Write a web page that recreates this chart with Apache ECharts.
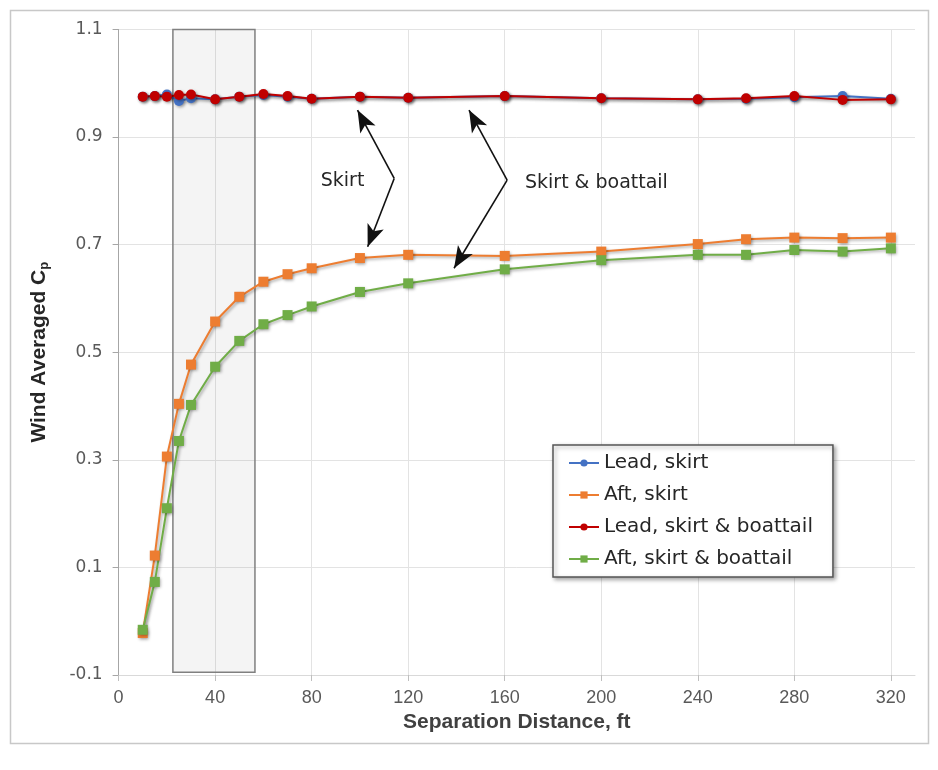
<!DOCTYPE html>
<html>
<head>
<meta charset="utf-8">
<script src="https://cdn.jsdelivr.net/npm/echarts@6/dist/echarts.min.js"></script>
<style>html,body{margin:0;padding:0;background:#fff}#c{width:938px;height:770px}</style>
</head>
<body>
<div id="c"></div>
<script>
// ---- data ----
var distances = [10, 15, 20, 25, 30, 40, 50, 60, 70, 80, 100, 120, 160, 200, 240, 260, 280, 300, 320];
var leadSkirt = [0.975, 0.976, 0.979, 0.967, 0.972, 0.970, 0.975, 0.978, 0.975, 0.971, 0.975, 0.973, 0.976, 0.972, 0.970, 0.971, 0.974, 0.976, 0.971];
var aftSkirt = [-0.022, 0.122, 0.306, 0.404, 0.477, 0.557, 0.603, 0.631, 0.645, 0.656, 0.675, 0.681, 0.679, 0.687, 0.701, 0.710, 0.713, 0.712, 0.713];
var leadSkirtBoattail = [0.975, 0.976, 0.975, 0.978, 0.979, 0.970, 0.975, 0.980, 0.976, 0.971, 0.975, 0.973, 0.976, 0.972, 0.970, 0.972, 0.976, 0.969, 0.970];
var aftSkirtBoattail = [-0.016, 0.073, 0.210, 0.335, 0.402, 0.473, 0.521, 0.552, 0.569, 0.585, 0.612, 0.628, 0.654, 0.671, 0.681, 0.681, 0.690, 0.687, 0.693];
var seriesNames = ['Lead, skirt', 'Aft, skirt', 'Lead, skirt & boattail', 'Aft, skirt & boattail'];
var xTicks = [0, 40, 80, 120, 160, 200, 240, 280, 320];
var shadedRange = [22.5, 56.5];
var annotationTexts = [{ name: 'Skirt', coord: [92.8, 0.818] }, { name: 'Skirt & boattail', coord: [198, 0.815] }];
var skirtArrow = { vertex: [114.2, 0.823], ends: [[99.0, 0.950], [103.2, 0.696]] };
var boattailArrow = { vertex: [161.0, 0.820], ends: [[145.2, 0.950], [139.0, 0.656]] };

function pairs(ys) { return distances.map(function (x, i) { return [x, ys[i]]; }); }
function arrowLines(a) {
  return a.ends.map(function (e) {
    return [{ coord: a.vertex, symbol: 'none' }, { coord: e, symbol: 'arrow' }];
  });
}

var shadow = { shadowColor: 'rgba(0,0,0,0.35)', shadowBlur: 3, shadowOffsetX: 1.5, shadowOffsetY: 1.5 };
function mkSeries(name, ys, color, symbol, size) {
  return {
    name: name, type: 'line', data: pairs(ys), symbol: symbol, symbolSize: size,
    lineStyle: Object.assign({ color: color, width: 2 }, shadow),
    itemStyle: Object.assign({ color: color }, shadow),
    animation: false
  };
}

var chart = echarts.init(document.getElementById('c'), null, { renderer: 'canvas' });
var s1 = mkSeries(seriesNames[0], leadSkirt, '#4472C4', 'circle', 10);
var s2 = mkSeries(seriesNames[1], aftSkirt, '#ED7D31', 'rect', 10);
var s3 = mkSeries(seriesNames[2], leadSkirtBoattail, '#C00000', 'circle', 10);
var s4 = mkSeries(seriesNames[3], aftSkirtBoattail, '#70AD47', 'rect', 10);

s1.markArea = {
  silent: true,
  itemStyle: { color: 'rgba(0,0,0,0.045)', borderColor: '#808080', borderWidth: 1.5 },
  data: [[{ coord: [shadedRange[0], -0.095] }, { coord: [shadedRange[1], 1.1] }]]
};
s4.markLine = {
  silent: true, animation: false,
  symbolSize: [13, 22],
  lineStyle: { color: '#111', width: 1.6, type: 'solid' },
  label: { show: false },
  data: arrowLines(skirtArrow).concat(arrowLines(boattailArrow))
};
s4.markPoint = {
  silent: true, animation: false,
  symbol: 'circle', symbolSize: 1, itemStyle: { color: 'rgba(0,0,0,0)' },
  label: { show: true, position: 'inside', formatter: function (p) { return p.name; },
    color: '#262626', fontSize: 19, fontFamily: 'DejaVu Sans' },
  data: annotationTexts.map(function (t) { return { name: t.name, coord: t.coord }; })
};

chart.setOption({
  backgroundColor: '#fff',
  animation: false,
  graphic: [{
    type: 'rect', left: 8, top: 8, shape: { width: 918, height: 733 },
    style: { fill: 'none', stroke: '#c8c8c8', lineWidth: 1.5 }, silent: true, z: -10
  }],
  grid: { left: 118.6, right: 23, top: 29.4, bottom: 95 },
  legend: {
    orient: 'vertical', left: 553, top: 445,
    data: seriesNames,
    backgroundColor: '#fff', borderColor: '#555', borderWidth: 1.5, borderRadius: 0,
    shadowColor: 'rgba(0,0,0,0.35)', shadowBlur: 4, shadowOffsetX: 2, shadowOffsetY: 2,
    padding: [7, 20, 7, 15], itemGap: 10, itemWidth: 30, itemHeight: 9,
    textStyle: { fontSize: 20, color: '#262626', fontFamily: 'DejaVu Sans', lineHeight: 22 }
  },
  xAxis: {
    type: 'value', min: 0, max: 330, interval: 40,
    name: 'Separation Distance, ft', nameLocation: 'middle', nameGap: 33,
    nameTextStyle: { fontSize: 21, fontWeight: 'bold', color: '#404040', fontFamily: 'Liberation Sans' },
    axisLine: { show: true, onZero: false, lineStyle: { color: '#d9d9d9', width: 1 } },
    axisTick: { show: true, length: 6, lineStyle: { color: '#bfbfbf' }, customValues: xTicks },
    axisLabel: { margin: 14, fontSize: 18, color: '#595959', fontFamily: 'Liberation Sans', customValues: xTicks },
    splitLine: { show: true, lineStyle: { color: '#e3e3e3', width: 1 } }
  },
  yAxis: {
    type: 'value', min: -0.1, max: 1.1, interval: 0.2,
    name: '{a|Wind Averaged C}{b|p}', nameLocation: 'middle', nameGap: 68, nameRotate: 90,
    nameTextStyle: {
      rich: {
        a: { fontSize: 21, fontWeight: 'bold', color: '#262626', fontFamily: 'Liberation Sans' },
        b: { fontSize: 13, fontWeight: 'bold', color: '#262626', fontFamily: 'Liberation Sans', verticalAlign: 'bottom', padding: [10, 0, 0, 0] }
      }
    },
    axisLine: { show: true, onZero: false, lineStyle: { color: '#a6a6a6', width: 1 } },
    axisTick: { show: true, inside: false, length: 6, lineStyle: { color: '#a6a6a6' } },
    axisLabel: { margin: 16, fontSize: 17, color: '#595959', fontFamily: 'DejaVu Sans',
      formatter: function (v) { return v.toFixed(1); } },
    splitLine: { show: true, lineStyle: { color: '#e3e3e3', width: 1 } }
  },
  series: [s1, s2, s3, s4]
});
</script>
</body>
</html>
